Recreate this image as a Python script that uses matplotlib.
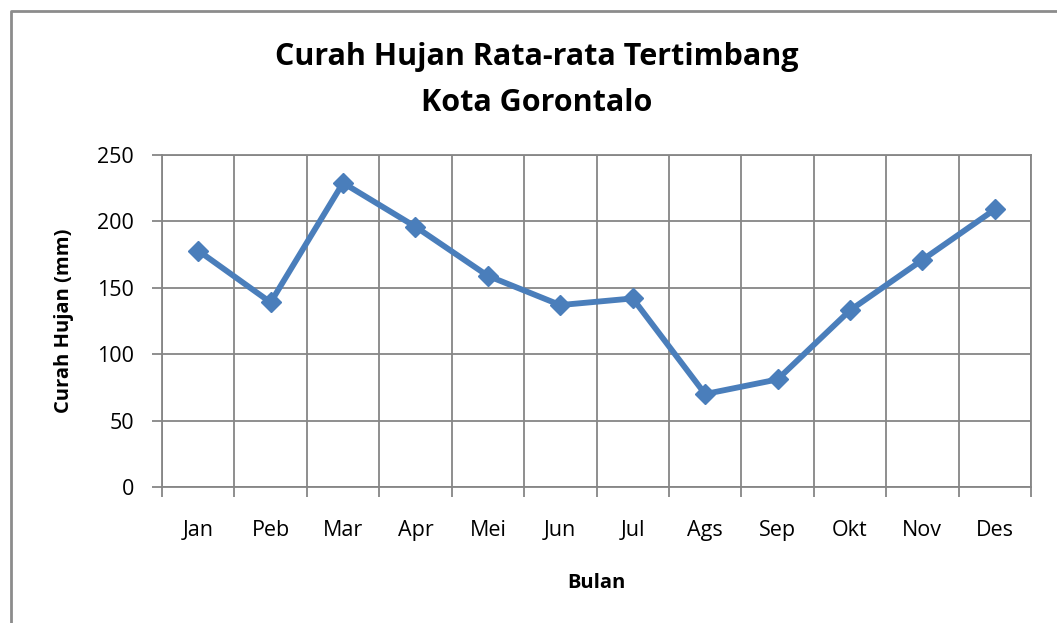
import numpy as np
import matplotlib.pyplot as plt
from matplotlib.lines import Line2D

bulan = ["Jan", "Peb", "Mar", "Apr", "Mei", "Jun", "Jul", "Ags", "Sep", "Okt", "Nov", "Des"]
curah_hujan = [178, 139, 229, 196, 159, 137, 142, 70, 81, 133, 171, 209]
y_ticks = [0, 50, 100, 150, 200, 250]

plt.rcParams['font.family'] = ['Open Sans', 'DejaVu Sans']

fig = plt.figure(figsize=(10.57, 6.23), dpi=100)
ax = fig.add_axes([162 / 1057, 1 - 487 / 623, (1031 - 162) / 1057, (487 - 155) / 623])

x = np.arange(len(bulan))
ax.plot(x, curah_hujan, color="#4A7EBB", linewidth=4.2, marker="D", markersize=10.5,
        markerfacecolor="#4A7EBB", markeredgecolor="#4A7EBB", zorder=3, clip_on=False)

ax.set_xlim(-0.5, len(bulan) - 0.5)
ax.set_ylim(0, 250)
ax.set_yticks(y_ticks)
ax.set_xticks(x)
ax.set_xticklabels(bulan)
ax.set_xticks(np.arange(-0.5, len(bulan)), minor=True)

grid_col = "#868686"
ax.grid(True, which="major", axis="y", color=grid_col, linewidth=1.3)
ax.grid(True, which="minor", axis="x", color=grid_col, linewidth=1.3)
for s in ax.spines.values():
    s.set_color(grid_col)
    s.set_linewidth(1.3)

ax.tick_params(axis="x", which="major", length=0, labelsize=15.5, pad=24)
ax.tick_params(axis="x", which="minor", length=7, color=grid_col, width=1.3)
ax.tick_params(axis="y", length=7, color=grid_col, width=1.3, labelsize=15.5, pad=13)

ax.set_xlabel("Bulan", fontsize=14.5, fontweight="bold", labelpad=23)
ax.set_ylabel("Curah Hujan (mm)", fontsize=14.5, fontweight="bold", labelpad=17)

fig.text(537 / 1057, 1 - 80 / 623, "Curah Hujan Rata-rata Tertimbang\nKota Gorontalo",
         ha="center", va="center", fontsize=22, fontweight="bold", linespacing=1.7)

# chart frame (left and top edge only)
fig.add_artist(Line2D([10.5 / 1057, 10.5 / 1057, 1], [0, 1 - 11 / 623, 1 - 11 / 623],
                      transform=fig.transFigure, color="#8C8C8C", linewidth=2))

fig.savefig("out.png", dpi=100)
